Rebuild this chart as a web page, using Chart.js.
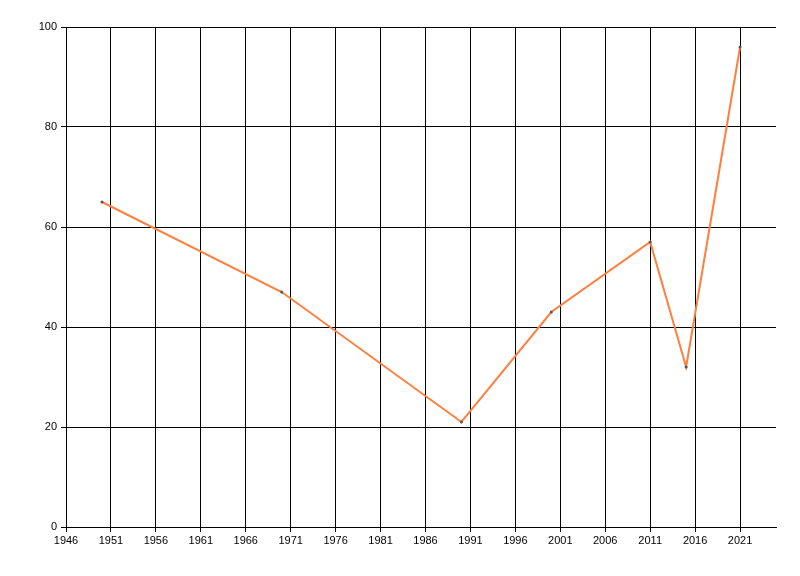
<!DOCTYPE html>
<html>
<head>
<meta charset="utf-8">
<script src="https://cdn.jsdelivr.net/npm/chart.js@4"></script>
<style>
  body { margin: 0; background: #fff; }
  #wrap { width: 800px; height: 576px; }
</style>
</head>
<body>
<div id="wrap"><canvas id="lineChart" width="800" height="576"></canvas></div>
<script>
// data
const years = [1950, 1970, 1990, 2000, 2011, 2015, 2021];
const values = [65, 47, 21, 43, 57, 32, 96];
const xTicks = [1946, 1951, 1956, 1961, 1966, 1971, 1976, 1981, 1986, 1991, 1996, 2001, 2006, 2011, 2016, 2021];
const yTicks = [0, 20, 40, 60, 80, 100];

const tickFont = { family: 'Liberation Sans', size: 11 };

const ctx = document.getElementById('lineChart').getContext('2d');
new Chart(ctx, {
    type: 'line',
    data: {
        datasets: [{
            data: years.map((y, i) => ({ x: y, y: values[i] })),
            borderColor: '#ff7f3f',
            borderWidth: 2,
            pointRadius: 1.5,
            pointBackgroundColor: '#555',
            pointBorderWidth: 0,
            tension: 0
        }]
    },
    options: {
        responsive: false,
        animation: false,
        layout: { padding: { top: 27, right: 24, left: 0, bottom: 0 } },
        plugins: { legend: { display: false }, tooltip: { enabled: false } },
        scales: {
            x: {
                type: 'linear',
                min: 1946,
                max: 2025,
                afterBuildTicks: axis => { axis.ticks = xTicks.map(v => ({ value: v })); },
                afterFit: axis => { axis.height = 49; },
                ticks: { font: tickFont, color: '#000', maxRotation: 0, autoSkip: false, padding: 2,
                         callback: v => String(v) },
                grid: { color: '#000', lineWidth: 1, tickLength: 5 },
                border: { color: '#000', width: 1 }
            },
            y: {
                min: 0,
                max: 100,
                afterBuildTicks: axis => { axis.ticks = yTicks.map(v => ({ value: v })); },
                afterFit: axis => { axis.width = 66; },
                ticks: { font: tickFont, color: '#000', padding: 4 },
                grid: { color: '#000', lineWidth: 1, tickLength: 5 },
                border: { color: '#000', width: 1 }
            }
        }
    }
});
</script>
</body>
</html>
